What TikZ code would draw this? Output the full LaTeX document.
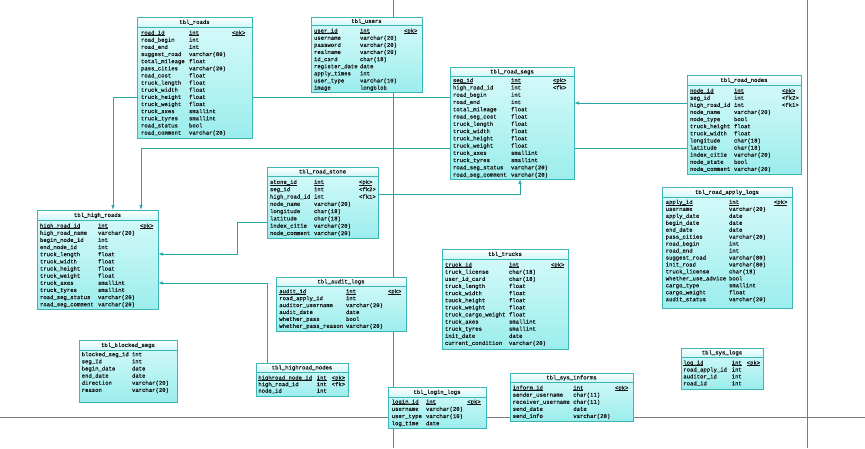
\documentclass[tikz,border=0pt]{standalone}
\usepackage{fontspec}
\newfontfamily\erfont[FakeBold=0.45]{Liberation Mono}
\usetikzlibrary{arrows.meta}
\pgfdeclarelayer{back}
\pgfdeclarelayer{bg}
\pgfsetlayers{back,bg,main}
\definecolor{tborder}{HTML}{3DB5B5}
\definecolor{bodyA}{HTML}{D8FAFA}
\definecolor{bodyB}{HTML}{9CEDED}
\definecolor{headB}{HTML}{CFF6F6}
\definecolor{conncol}{HTML}{28A6A6}
\definecolor{pagecol}{HTML}{7A7A7A}
\definecolor{txt}{HTML}{141414}
\tikzset{
  tbody/.style={rectangle, draw=tborder, line width=0.7pt, top color=bodyA, bottom color=bodyB, inner sep=0pt, outer sep=0pt},
  thead/.style={rectangle, draw=tborder, line width=0.7pt, top color=white, bottom color=headB, inner sep=0pt, outer sep=0pt},
  cell/.style={font=\erfont\fontsize{5.6}{6}\selectfont, text=txt, inner sep=0pt, outer sep=0pt, anchor=base west},
  ttitle/.style={cell, anchor=base},
  conn/.style={draw=conncol, line width=0.7pt, -{Latex[length=5pt,width=3.4pt]}},
  pageline/.style={draw=pagecol, line width=0.8pt}
}
\newcommand\erul[1]{\setbox0\hbox{#1}\rlap{\rule[-0.9pt]{\wd0}{0.3pt}}\box0}
% id, title, left, top, right, header bottom, bottom
\newcommand\erbox[7]{%
  \node[tbody, minimum width={(#5-#3)*1pt}, minimum height={(#7-#4)*1pt}, anchor=north west] (#1) at (#3,#4) {};
  \node[thead, minimum width={(#5-#3)*1pt}, minimum height={(#6-#4)*1pt}, anchor=north west] (#1-h) at (#3,#4) {};
  \node[ttitle] (#1-t) at ({(#3+#5)/2},{(#4+#6)/2+1.9}) {#2};
}
% id, first row centre, spacing, c1, c2, c3, rows
\newcommand\errows[7]{%
  \foreach \xa/\xb/\xc/\xu [count=\xi from 0] in {#7}{
    \node[cell] (#1-\xi-a) at (#4,{#2+\xi*#3+1.9}) {\ifnum\xu=1 \erul{\xa}\else\xa\fi};
    \node[cell] (#1-\xi-b) at (#5,{#2+\xi*#3+1.9}) {\ifnum\xu=1 \erul{\xb}\else\xb\fi};
    \node[cell] (#1-\xi-c) at (#6,{#2+\xi*#3+1.9}) {\ifnum\xu=1 \erul{\xc}\else\xc\fi};
  }
}
\begin{document}
\catcode`\_=12
\begin{tikzpicture}[x=1pt,y=-1pt]
\useasboundingbox (0,0) rectangle (865,448);
\begin{pgfonlayer}{back}
  \fill[white] (0,0) rectangle (865,448);
\end{pgfonlayer}

% tbl_roads
\erbox{roads}{tbl_roads}{137}{17}{252}{27}{138}
\errows{roads}{32.7}{7.14}{141}{189}{232}{road_id/int/<pk>/1, road_begin/int//0, road_end/int//0, suggest_road/varchar(80)//0, total_mileage/float//0, pass_cities/varchar(20)//0, road_cost/float//0, truck_length/float//0, truck_width/float//0, truck_height/float//0, truck_weight/float//0, truck_axes/smallint//0, truck_tyres/smallint//0, road_status/bool//0, road_comment/varchar(20)//0}

% tbl_users
\erbox{users}{tbl_users}{311}{17}{422}{25}{92}
\errows{users}{30.7}{7.125}{314}{360}{404}{user_id/int/<pk>/1, username/varchar(20)//0, password/varchar(20)//0, realname/varchar(20)//0, id_card/char(18)//0, register_date/date//0, apply_times/int//0, user_type/varchar(10)//0, image/longblob//0}

% tbl_road_segs
\erbox{segs}{tbl_road_segs}{450}{67}{574}{76}{179}
\errows{segs}{80.3}{7.26}{453}{511}{553}{seg_id/int/<pk>/1, high_road_id/int/<fk>/0, road_begin/int//0, road_end/int//0, total_mileage/float//0, road_seg_cost/float//0, truck_length/float//0, truck_width/float//0, truck_height/float//0, truck_weight/float//0, truck_axes/smallint//0, truck_tyres/smallint//0, road_seg_status/varchar(20)//0, road_seg_comment/varchar(20)//0}

% tbl_road_nodes
\erbox{rnodes}{tbl_road_nodes}{687}{75}{801}{85}{174}
\errows{rnodes}{90.7}{7.12}{690}{734}{782}{node_id/int/<pk>/1, seg_id/int/<fk2>/0, high_road_id/int/<fk1>/0, node_name/varchar(20)//0, node_type/bool//0, truck_height/float//0, truck_width/float//0, longitude/char(18)//0, latitude/char(18)//0, index_citie/varchar(20)//0, node_state/bool//0, node_comment/varchar(20)//0}

% tbl_road_stone
\erbox{stone}{tbl_road_stone}{267}{167}{378}{176}{238}
\errows{stone}{182}{7.3}{270}{314}{359}{stone_id/int/<pk>/1, seg_id/int/<fk2>/0, high_road_id/int/<fk1>/0, node_name/varchar(20)//0, longitude/char(18)//0, latitude/char(18)//0, index_citie/varchar(20)//0, node_comment/varchar(20)//0}

% tbl_high_roads
\erbox{hroads}{tbl_high_roads}{37}{210}{158}{220}{309}
\errows{hroads}{225.7}{7.15}{40}{98}{140}{high_road_id/int/<pk>/1, high_road_name/varchar(20)//0, begin_node_id/int//0, end_node_id/int//0, truck_length/float//0, truck_width/float//0, truck_height/float//0, truck_weight/float//0, truck_axes/smallint//0, truck_tyres/smallint//0, road_seg_status/varchar(20)//0, road_seg_comment/varchar(20)//0}

% tbl_road_apply_logs
\erbox{apply}{tbl_road_apply_logs}{662}{187}{792}{197}{308}
\errows{apply}{202}{6.95}{665.7}{729}{774}{apply_id/int/<pk>/1, username/varchar(20)//0, apply_date/date//0, begin_date/date//0, end_date/date//0, pass_cities/varchar(20)//0, road_begin/int//0, road_end/int//0, suggest_road/varchar(80)//0, init_road/varchar(80)//0, truck_license/char(18)//0, whether_use_advice/bool//0, cargo_type/smallint//0, cargo_weight/float//0, audit_status/varchar(20)//0}

% tbl_trucks
\erbox{trucks}{tbl_trucks}{442}{249}{568}{259}{349}
\errows{trucks}{264.7}{7.12}{445}{509}{551}{truck_id/int/<pk>/1, truck_license/char(18)//0, user_id_card/char(18)//0, truck_length/float//0, truck_width/float//0, tuuck_height/float//0, truck_weight/float//0, truck_cargo_weight/float//0, truck_axes/smallint//0, truck_tyres/smallint//0, init_date/date//0, current_condition/varchar(20)//0}

% tbl_audit_logs
\erbox{audit}{tbl_audit_logs}{276}{277}{406}{286}{331}
\errows{audit}{291.3}{6.93}{279.3}{346}{388}{audit_id/int/<pk>/1, road_apply_id/int//0, auditor_username/varchar(20)//0, audit_date/date//0, whether_pass/bool//0, whether_pass_reason/varchar(20)//0}

% tbl_blocked_segs
\erbox{blocked}{tbl_blocked_segs}{79}{340}{177}{350}{402}
\errows{blocked}{354.3}{7.13}{81.7}{132}{160}{blocked_seg_id/int//0, seg_Id/int//0, begin_date/date//0, end_date/date//0, direction/varchar(20)//0, reason/varchar(20)//0}

% tbl_highroad_nodes
\erbox{hrnodes}{tbl_highroad_nodes}{256}{363}{348}{372}{396}
\errows{hrnodes}{377.7}{6.5}{258.3}{316.7}{331.7}{highroad_node_id/int/<pk>/1, high_road_id/int/<fk>/0, node_id/int//0}

% tbl_login_logs
\erbox{login}{tbl_login_logs}{388}{387}{486}{397}{428}
\errows{login}{401.7}{7.2}{391.7}{426}{467.3}{login_id/int/<pk>/1, username/varchar(20)//0, user_type/varchar(10)//0, log_time/date//0}

% tbl_sys_informs
\erbox{informs}{tbl_sys_informs}{510}{373}{633}{382}{421}
\errows{informs}{387.7}{7.08}{512.7}{573.3}{615}{inform_id/int/<pk>/1, sender_username/char(11)//0, receiver_username/char(11)//0, send_date/date//0, send_info/varchar(20)//0}

% tbl_sys_logs
\erbox{syslogs}{tbl_sys_logs}{681}{348}{763}{357}{389}
\errows{syslogs}{362.7}{6.9}{683.3}{731.7}{746.7}{log_id/int/<pk>/1, road_apply_id/int//0, auditor_id/int//0, road_id/int//0}

\begin{pgfonlayer}{bg}
  % page boundaries
  \draw[pageline] (393,0) -- (393,448);
  \draw[pageline] (807,0) -- (807,448);
  \draw[pageline] (0,417) -- (865,417);
  % relationships
  \draw[conn] (segs.west |- 0,97) -| (hroads.north -| 113,0);
  \draw[conn] (rnodes.west |- 0,103) -- (segs.east |- 0,103);
  \draw[conn] (rnodes.west |- 0,148) -| (hroads.north -| 141,0);
  \draw[conn] (stone.east |- 0,194) -| (segs.south -| 520,0);
  \draw[conn] (stone.west |- 0,222) -- (237,222) |- (hroads.east |- 0,254);
  \draw[conn] (hrnodes.north -| 267,0) |- (hroads.east |- 0,283);
\end{pgfonlayer}
\end{tikzpicture}
\end{document}
